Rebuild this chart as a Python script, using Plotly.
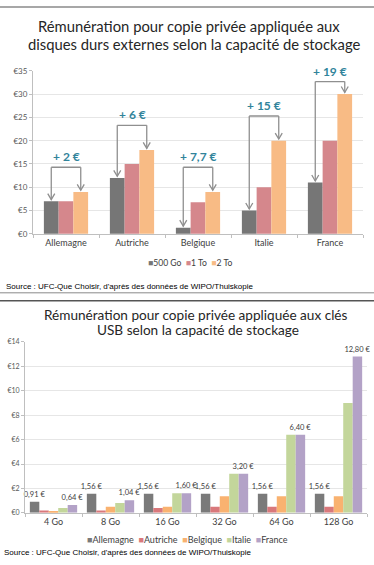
import plotly.graph_objects as go

# ---------------- data: top chart (disques durs externes) ----------------
hdd_countries = ["Allemagne", "Autriche", "Belgique", "Italie", "France"]
hdd_500go = [7, 12, 1.3, 5, 11]
hdd_1to = [7, 15, 6.8, 10, 20]
hdd_2to = [9, 18, 9, 20, 30]
hdd_series = ["500 Go", "1 To", "2 To"]
hdd_ticks = [0, 5, 10, 15, 20, 25, 30, 35]

# ---------------- data: bottom chart (clés USB) ----------------
usb_sizes = ["4 Go", "8 Go", "16 Go", "32 Go", "64 Go", "128 Go"]
usb_allemagne = [0.91, 1.56, 1.56, 1.56, 1.56, 1.56]
usb_autriche = [0.2, 0.2, 0.4, 0.5, 0.5, 0.5]
usb_belgique = [0.15, 0.5, 0.5, 1.35, 1.35, 1.35]
usb_italie = [0.4, 0.8, 1.6, 3.2, 6.4, 9.0]
usb_france = [0.64, 1.04, 1.60, 3.20, 6.40, 12.80]
usb_series = ["Allemagne", "Autriche", "Belgique", "Italie", "France"]
usb_ticks = [0, 2, 4, 6, 8, 10, 12, 14]

W, H = 374, 565


def px_x(p):
    return p / W


def px_y(p):
    return 1 - p / H


def euro(v):
    s = f"{v:.2f}".replace(".", ",")
    return s + "\u00a0€"


def delta_label(v):
    s = f"{v:.1f}".rstrip("0").rstrip(".").replace(".", ",")
    return "+ " + s + " €"


top_colors = ["#767676", "#d5878c", "#f8bb85"]
usb_colors = ["#7a7a7a", "#d9787b", "#f9b270", "#c3d69b", "#b3a2c7"]
teal = "#31849b"
axis_grey = "#bfbfbf"
grid_grey = "#e6e6e6"
text_dark = "#404040"
calibri = "Lato, 'Open Sans', sans-serif"
arial = "'Liberation Sans', Arial, sans-serif"

fig = go.Figure()

# top bars
for name, vals, col in zip(hdd_series, [hdd_500go, hdd_1to, hdd_2to], top_colors):
    fig.add_trace(go.Bar(x=hdd_countries, y=vals, name=name, marker_color=col,
                         marker_line_width=0, xaxis="x", yaxis="y",
                         showlegend=False, hoverinfo="x+y"))

# bottom bars
usb_vals = [usb_allemagne, usb_autriche, usb_belgique, usb_italie, usb_france]
for name, vals, col in zip(usb_series, usb_vals, usb_colors):
    labelled = name in ("Allemagne", "France")
    fig.add_trace(go.Bar(x=usb_sizes, y=vals, name=name, marker_color=col,
                         marker_line_width=0, xaxis="x2", yaxis="y2",
                         text=[euro(v) for v in vals] if labelled else None,
                         textposition="outside" if labelled else "none",
                         constraintext="none", cliponaxis=False,
                         textfont=dict(size=7.5, color=text_dark, family=calibri),
                         showlegend=False, hoverinfo="x+y"))

TOP_GAP = 0.33
USB_GAP = 0.17

shapes = []
annotations = []

# brackets with arrows on top chart
bw = (1 - TOP_GAP) / 3
for i, (a, b, c) in enumerate(zip(hdd_500go, hdd_1to, hdd_2to)):
    top = min(max(a, b, c) + 5.3, 32.7)
    xl, xr = i - bw, i + bw
    tip_l, tip_r = a + 0.35, c + 0.35
    line = dict(color="#8f8f8f", width=1.3)
    shapes.append(dict(type="line", xref="x", yref="y", x0=xl, x1=xl, y0=top, y1=tip_l, line=line))
    shapes.append(dict(type="line", xref="x", yref="y", x0=xl, x1=xr, y0=top, y1=top, line=line))
    shapes.append(dict(type="line", xref="x", yref="y", x0=xr, x1=xr, y0=top, y1=tip_r, line=line))
    for xx, tt in ((xl, tip_l), (xr, tip_r)):
        shapes.append(dict(type="path", xref="x", yref="y", xsizemode="pixel", ysizemode="pixel",
                           xanchor=xx, yanchor=tt, path="M -3.5,6 L 0,0 L 3.5,6", line=line))
    annotations.append(dict(x=i, y=top, xref="x", yref="y", text="<b>" + delta_label(c - a) + "</b>",
                            showarrow=False, yanchor="bottom", yshift=1,
                            font=dict(size=12, color=teal, family=calibri)))

# titles
title_col = "#262626"
annotations += [
    dict(x=px_x(189), y=px_y(21), xref="paper", yref="paper", showarrow=False, yanchor="middle",
         text="Rémunération pour copie privée appliquée aux", font=dict(size=14.8, color=title_col, family=calibri)),
    dict(x=px_x(194), y=px_y(39.5), xref="paper", yref="paper", showarrow=False, yanchor="middle",
         text="disques durs externes selon la capacité de stockage", font=dict(size=14.8, color=title_col, family=calibri)),
    dict(x=px_x(196), y=px_y(316), xref="paper", yref="paper", showarrow=False, yanchor="middle",
         text="Rémunération pour copie privée appliquée aux clés", font=dict(size=13.6, color=title_col, family=calibri)),
    dict(x=px_x(198), y=px_y(330.5), xref="paper", yref="paper", showarrow=False, yanchor="middle",
         text="USB selon la capacité de stockage", font=dict(size=13.6, color=title_col, family=calibri)),
]

# legends (compact, Excel style)
def legend_text(names, colors, sep):
    parts = []
    for n, c in zip(names, colors):
        parts.append(f'<span style="color:{c}">■</span>{n}')
    return sep.join(parts)

annotations += [
    dict(x=px_x(190), y=px_y(263), xref="paper", yref="paper", showarrow=False, yanchor="middle",
         text=legend_text(hdd_series, top_colors, "\u00a0\u00a0"), font=dict(size=8.6, color=text_dark, family=calibri)),
    dict(x=px_x(187), y=px_y(544), xref="paper", yref="paper", showarrow=False, yanchor="middle",
         text=legend_text(usb_series, usb_colors, "\u00a0\u00a0"), font=dict(size=9, color=text_dark, family=calibri)),
    dict(x=px_x(4), y=px_y(287), xref="paper", yref="paper", showarrow=False, xanchor="left", yanchor="middle",
         text="Source : UFC-Que Choisir, d'après des données de WIPO/Thuiskopie",
         font=dict(size=8, color="#000000", family=arial)),
    dict(x=px_x(2), y=px_y(557), xref="paper", yref="paper", showarrow=False, xanchor="left", yanchor="middle",
         text="Source : UFC-Que Choisir, d'après des données de WIPO/Thuiskopie",
         font=dict(size=8, color="#000000", family=arial)),
]

# frame lines
for yy, col, wd in ((2, "#8a8a8a", 1.5), (293, "#8a8a8a", 1), (301, "#555555", 1.5)):
    shapes.append(dict(type="line", xref="paper", yref="paper", x0=0, x1=1, y0=px_y(yy), y1=px_y(yy),
                       line=dict(color=col, width=wd)))

axis_common = dict(showline=True, linecolor=axis_grey, linewidth=1, ticks="outside",
                   tickcolor=axis_grey, ticklen=3, zeroline=False)

fig.update_layout(
    width=W, height=H, margin=dict(l=0, r=0, t=0, b=0),
    paper_bgcolor="white", plot_bgcolor="white",
    barmode="group",
    bargap=TOP_GAP, bargroupgap=0,
    showlegend=False,
    xaxis=dict(domain=[px_x(33), px_x(363)], anchor="y", tickson="boundaries",
               tickfont=dict(size=9, color=text_dark, family=calibri), **axis_common),
    yaxis=dict(domain=[px_y(233), px_y(67)], anchor="x", range=[0, 35], tickvals=hdd_ticks,
               ticktext=["€" + str(t) for t in hdd_ticks], showgrid=True, gridcolor=grid_grey,
               tickfont=dict(size=8, color="#595959", family=calibri), **axis_common),
    xaxis2=dict(domain=[px_x(25), px_x(367)], anchor="y2", tickson="boundaries",
                tickfont=dict(size=9, color=text_dark, family=calibri), **axis_common),
    yaxis2=dict(domain=[px_y(517), px_y(343)], anchor="x2", range=[0, 14], tickvals=usb_ticks,
                ticktext=["€" + str(t) for t in usb_ticks], showgrid=True, gridcolor=grid_grey,
                tickfont=dict(size=7, color="#595959", family=calibri), **axis_common),
    shapes=shapes,
    annotations=annotations,
)

# bottom chart uses its own gap: set the USB bar widths/offsets within each category
uw = (1 - USB_GAP) / 5
for k, tr in enumerate(fig.data[3:]):
    tr.width = uw
    tr.offset = -0.5 + USB_GAP / 2 + k * uw

fig.write_html("out.html", config={"displayModeBar": False},
               post_script="document.body.style.margin='0';document.body.style.overflow='hidden';")
